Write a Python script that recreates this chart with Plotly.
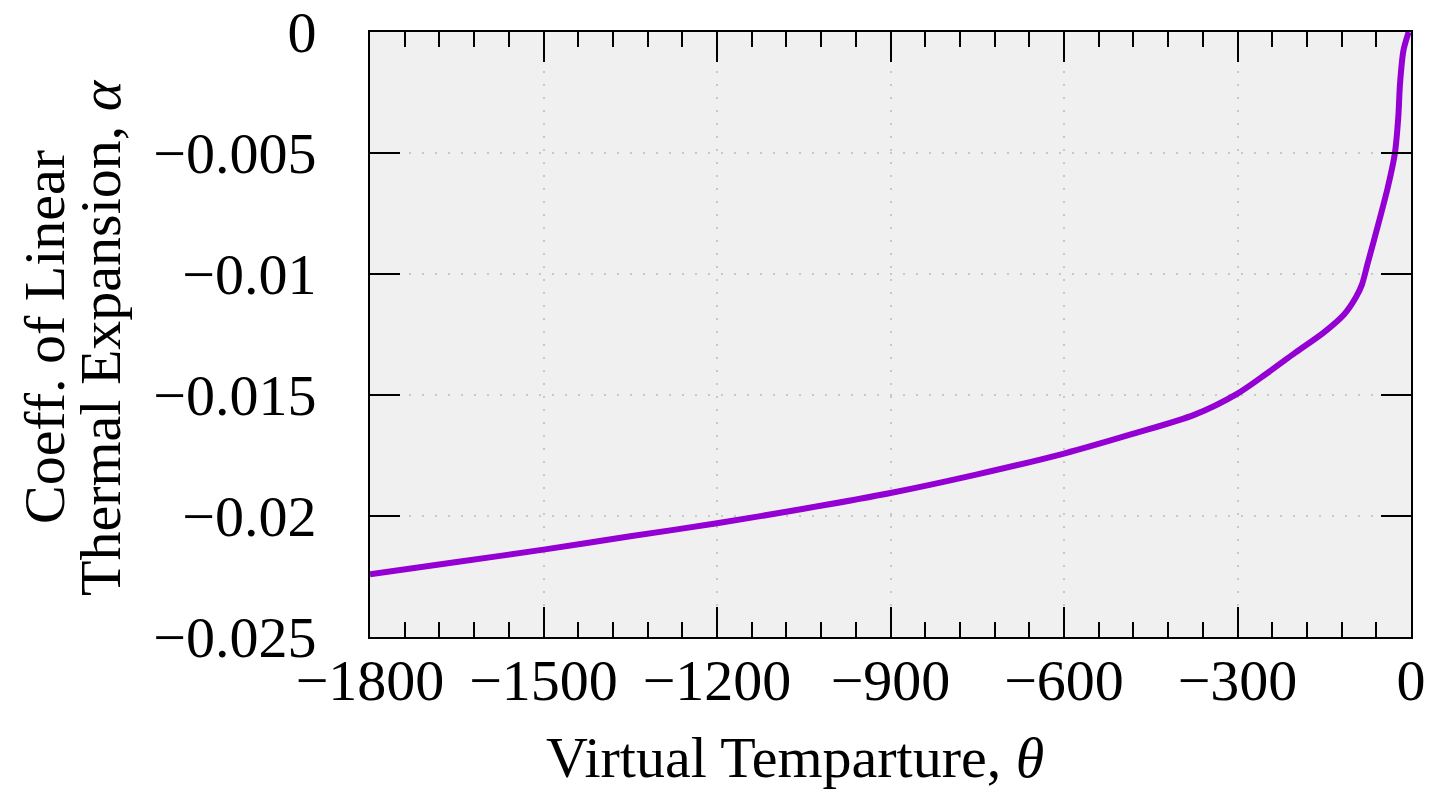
import plotly.graph_objects as go

# Virtual temperature (theta) and coefficient of linear thermal expansion (alpha)
theta = [-1800, -1650, -1500, -1350, -1200, -1050, -900, -750, -600, -480,
         -375, -300, -250, -200, -150, -115, -95, -85, -75, -55, -40, -28,
         -22, -19, -13, -4]
alpha = [-0.02241, -0.02190, -0.02139, -0.02084, -0.02030, -0.01970, -0.01905,
         -0.01828, -0.01742, -0.01660, -0.01582, -0.01494, -0.01412, -0.01325,
         -0.01240, -0.01165, -0.01095, -0.01045, -0.00957, -0.00780, -0.00641,
         -0.00503, -0.00352, -0.00214, -0.00076, 0.0]

x_ticks = [-1800, -1500, -1200, -900, -600, -300, 0]
x_ticktext = ["\u22121800", "\u22121500", "\u22121200", "\u2212900", "\u2212600", "\u2212300", "0"]
y_ticks = [0, -0.005, -0.01, -0.015, -0.02, -0.025]
y_ticktext = ["0", "\u22120.005", "\u22120.01", "\u22120.015", "\u22120.02", "\u22120.025"]

FONT = "Liberation Serif"
W, H = 1437, 793
L, R, T, B = 369.5, 26, 31.5, 156.3

fig = go.Figure()
fig.add_trace(go.Scatter(
    x=theta, y=alpha, mode="lines",
    line=dict(color="#9400D3", width=6, shape="spline", smoothing=0.8),
    hoverinfo="skip", showlegend=False,
))

axis_common = dict(
    showline=True, linecolor="black", linewidth=2, mirror="allticks",
    ticks="inside", ticklen=30, tickwidth=2, tickcolor="black",
    showgrid=True, gridcolor="#c8c8c8", gridwidth=2, griddash="2px,11px",
    zeroline=False, tickfont=dict(family=FONT, size=58, color="black"),
)

fig.update_xaxes(
    range=[-1800, 0], tickvals=x_ticks, ticktext=x_ticktext,
    minor=dict(dtick=60, tick0=0, ticks="inside", ticklen=15, tickwidth=2,
               tickcolor="black", showgrid=False),
    ticklabelstandoff=-9,
    **axis_common,
)
fig.update_yaxes(
    range=[-0.025, 0], tickvals=y_ticks, ticktext=y_ticktext,
    ticklabelstandoff=40,
    **axis_common,
)

pw = W - L - R
ph = H - T - B

def px_x(p):
    return (p - L) / pw

def px_y(p):
    return 1 - (p - T) / ph

fig.add_annotation(
    text="Virtual Temparture, <i>θ</i>", xref="paper", yref="paper",
    x=px_x(795), y=px_y(757), xanchor="center", yanchor="middle",
    showarrow=False, font=dict(family=FONT, size=58, color="black"),
)
fig.add_annotation(
    text="Coeff. of Linear", xref="paper", yref="paper",
    x=px_x(44), y=px_y(337), xanchor="center", yanchor="middle", textangle=-90,
    showarrow=False, font=dict(family=FONT, size=58, color="black"),
)
fig.add_annotation(
    text="Thermal Expansion, <i>α</i>", xref="paper", yref="paper",
    x=px_x(100), y=px_y(337), xanchor="center", yanchor="middle", textangle=-90,
    showarrow=False, font=dict(family=FONT, size=58, color="black"),
)

fig.update_layout(
    width=W, height=H,
    margin=dict(l=L, r=R, t=T, b=B, autoexpand=False),
    paper_bgcolor="white", plot_bgcolor="#f0f0f0",
    font=dict(family=FONT, color="black"),
)

fig.write_html("out.html")
